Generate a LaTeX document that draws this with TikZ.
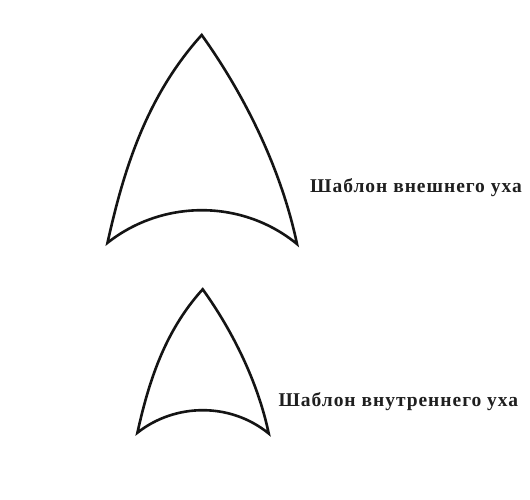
\documentclass[tikz,border=0pt]{standalone}
\usepackage{fontspec}
\setmainfont{Liberation Serif}
\newfontfamily\labelfont[LetterSpace=5.0]{Liberation Serif}
\begin{document}
\begin{tikzpicture}[x=1pt,y=-1pt,
  earline/.style={draw=black!92,line width=2.6pt,line join=miter},
  earlabel/.style={anchor=base west,inner sep=0pt,font=\labelfont\bfseries\fontsize{19.5}{22}\selectfont,text=black!88}]
\useasboundingbox[fill=white] (0,0) rectangle (530,500);
% outer ear template
\begin{scope}[shift={(201.7,35)}]
\draw[earline] (0,0) .. controls (-56.95,62.9) and (-79,139.5) .. (-94.2,207.8)
  .. controls (-38.7,164.1) and (40.6,164.2) .. (95.3,209)
  .. controls (79.8,135) and (43.5,60.75) .. cycle;
\end{scope}
% inner ear template
\begin{scope}[shift={(202.7,289.3)},xscale=0.693,yscale=0.69]
\draw[earline] (0,0) .. controls (-56.95,62.9) and (-79,139.5) .. (-94.2,207.8)
  .. controls (-38.7,164.1) and (40.6,164.2) .. (95.3,209)
  .. controls (79.8,135) and (43.5,60.75) .. cycle;
\end{scope}
\node[earlabel] (outer) at (310,192.7) {Шаблон внешнего уха};
\node[earlabel] (inner) at (278.3,406) {Шаблон внутреннего уха};
\end{tikzpicture}
\end{document}
